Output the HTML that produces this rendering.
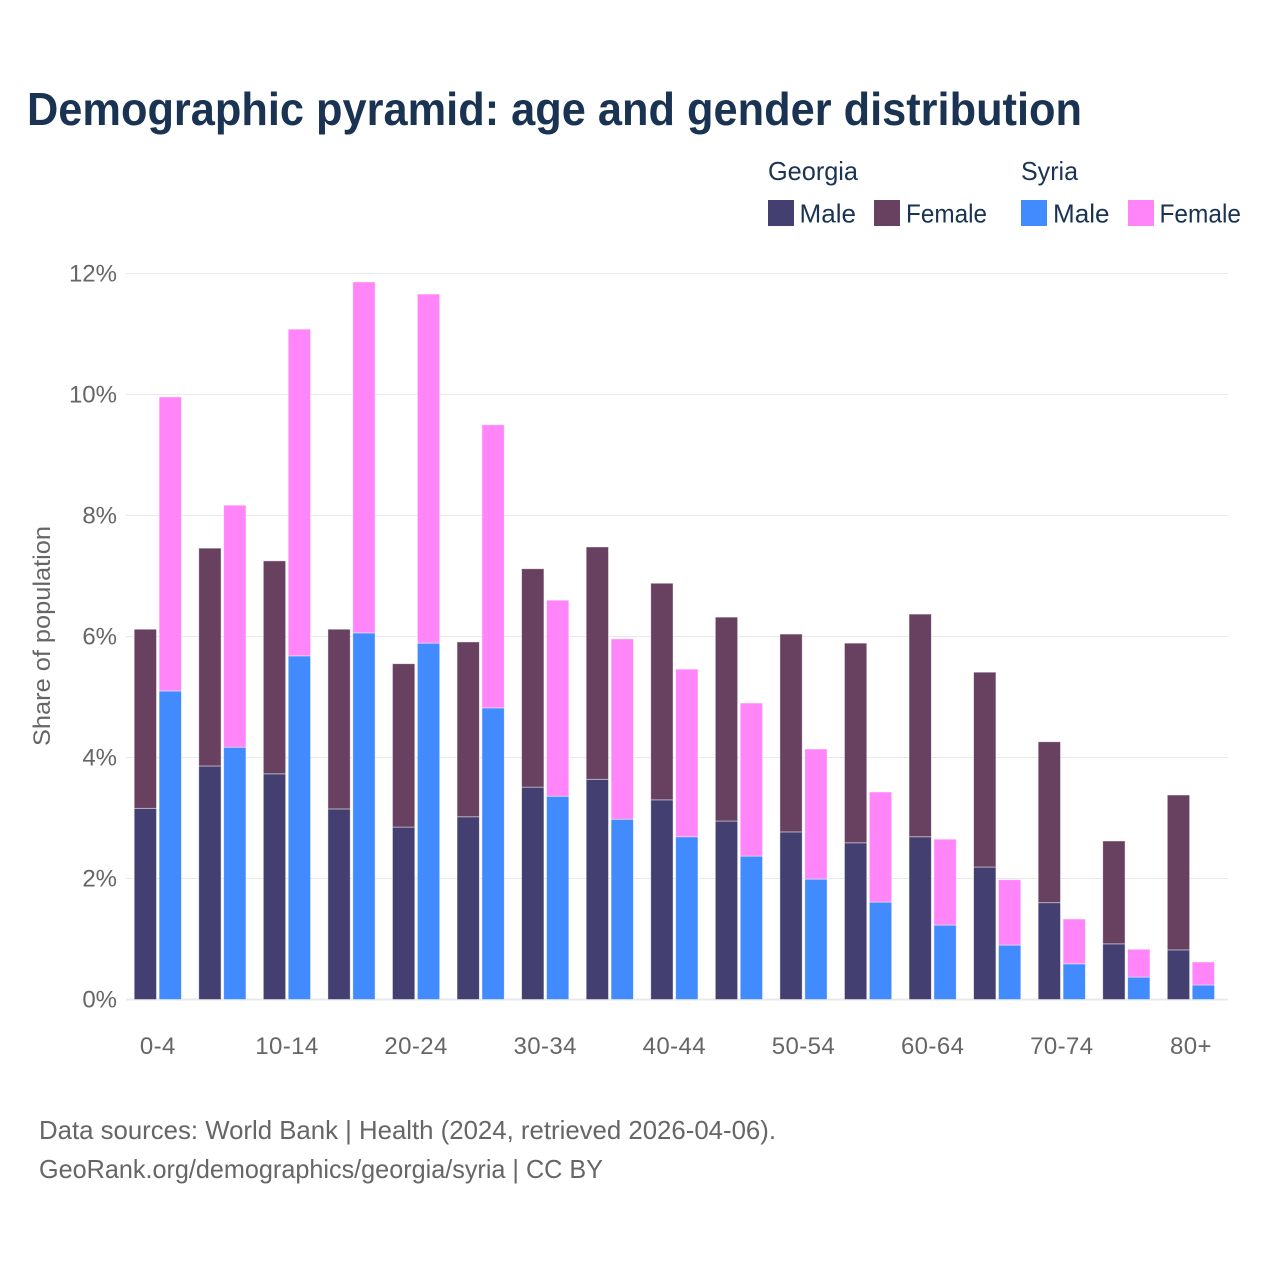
<!DOCTYPE html>
<html lang="en">
<head>
<meta charset="utf-8">
<title>Demographic pyramid</title>
<style>
html,body{margin:0;padding:0;background:#fff;width:1280px;height:1280px;overflow:hidden}
svg{display:block}
text{font-family:"Liberation Sans",sans-serif}
</style>
</head>
<body>
<svg id="chart" xmlns="http://www.w3.org/2000/svg" width="1280" height="1280" viewBox="0 0 1280 1280">
  <rect x="0" y="0" width="1280" height="1280" fill="#fff"/>
  <text x="27" y="125" font-size="46" font-weight="700" fill="#1a3353" textLength="1055" lengthAdjust="spacingAndGlyphs">Demographic pyramid: age and gender distribution</text>
  <g font-size="26" fill="#1a3353">
    <text x="768" y="180" textLength="90" lengthAdjust="spacingAndGlyphs">Georgia</text>
    <text x="1021" y="180" textLength="57" lengthAdjust="spacingAndGlyphs">Syria</text>
    <rect x="768" y="200" width="26" height="26" fill="#433f70"/>
    <text x="799.5" y="222.5" textLength="56.5" lengthAdjust="spacingAndGlyphs">Male</text>
    <rect x="874" y="200" width="26" height="26" fill="#684060"/>
    <text x="906" y="222.5" textLength="81" lengthAdjust="spacingAndGlyphs">Female</text>
    <rect x="1021" y="200" width="26" height="26" fill="#418bff"/>
    <text x="1053" y="222.5" textLength="56.5" lengthAdjust="spacingAndGlyphs">Male</text>
    <rect x="1128" y="200" width="26" height="26" fill="#ff85f9"/>
    <text x="1159.5" y="222.5" textLength="81.5" lengthAdjust="spacingAndGlyphs">Female</text>
  </g>
  <g id="grid"></g>
  <g id="yticks"></g>
  <g id="bars"></g>
  <g id="xticks"></g>
  <text transform="translate(50,636) rotate(-90)" text-anchor="middle" font-size="24" fill="#666" textLength="220" lengthAdjust="spacingAndGlyphs">Share of population</text>
  <text x="39" y="1139" font-size="26" fill="#666" textLength="737" lengthAdjust="spacingAndGlyphs">Data sources: World Bank | Health (2024, retrieved 2026-04-06).</text>
  <text x="39" y="1178" font-size="26" fill="#666" textLength="564" lengthAdjust="spacingAndGlyphs">GeoRank.org/demographics/georgia/syria | CC BY</text>
</svg>
<script>
const categories = ["0-4","5-9","10-14","15-19","20-24","25-29","30-34","35-39","40-44","45-49","50-54","55-59","60-64","65-69","70-74","75-79","80+"];
const xTickLabels = ["0-4","10-14","20-24","30-34","40-44","50-54","60-64","70-74","80+"];
const yTicks = [0,2,4,6,8,10,12];
const georgiaMale = [3.16,3.86,3.73,3.15,2.85,3.02,3.51,3.64,3.30,2.95,2.77,2.59,2.69,2.19,1.60,0.92,0.82];
const georgiaFemale = [2.96,3.60,3.52,2.97,2.70,2.89,3.61,3.84,3.58,3.37,3.27,3.30,3.68,3.22,2.66,1.70,2.56];
const syriaMale = [5.10,4.17,5.68,6.06,5.89,4.82,3.36,2.98,2.69,2.37,1.99,1.61,1.23,0.90,0.59,0.37,0.24];
const syriaFemale = [4.86,4.00,5.40,5.80,5.77,4.68,3.24,2.98,2.77,2.53,2.15,1.82,1.42,1.08,0.74,0.46,0.38];

const NS = "http://www.w3.org/2000/svg";
const plotLeft = 126, plotRight = 1228, y0 = 999.5, pxPerUnit = 60.5;
const firstCenter = 157.8, step = 64.57, barW = 22.3, barOffset = 1.3;
function yScale(v){ return y0 - v * pxPerUnit; }
function xScale(i){ return firstCenter + step * i; }

const grid = document.getElementById("grid");
const yticksG = document.getElementById("yticks");
yTicks.forEach(function(t){
  const line = document.createElementNS(NS,"line");
  
  
  line.setAttribute("x1",plotLeft);
  line.setAttribute("x2",plotRight);
  line.setAttribute("y1",yScale(t));
  line.setAttribute("y2",yScale(t));
  line.setAttribute("stroke","#e9e9ec");
  line.setAttribute("stroke-width",t === 0 ? 2 : 1);
  grid.appendChild(line);
  const label = document.createElementNS(NS,"text");
  
  
  label.setAttribute("x",117);
  label.setAttribute("y",yScale(t)+8);
  label.setAttribute("text-anchor","end");
  label.setAttribute("font-size",24);
  label.setAttribute("fill","#666");
  label.textContent = t + "%";
  yticksG.appendChild(label);
});

const barsG = document.getElementById("bars");
function addBar(i, side, base, value, color, name){
  const r = document.createElementNS(NS,"rect");
  
  
  const x = side < 0 ? xScale(i) - barOffset - barW : xScale(i) + barOffset;
  r.setAttribute("x", x);
  r.setAttribute("y", yScale(base + value));
  r.setAttribute("width", barW);
  r.setAttribute("height", value * pxPerUnit);
  r.setAttribute("fill", color);
  r.setAttribute("stroke", "rgba(255,255,255,0.55)");
  r.setAttribute("stroke-width", 0.8);
  barsG.appendChild(r);
}
categories.forEach(function(c,i){
  addBar(i,-1,0,georgiaMale[i],"#433f70","bar-georgia-male");
  addBar(i,-1,georgiaMale[i],georgiaFemale[i],"#684060","bar-georgia-female");
  addBar(i,1,0,syriaMale[i],"#418bff","bar-syria-male");
  addBar(i,1,syriaMale[i],syriaFemale[i],"#ff85f9","bar-syria-female");
});

const xticksG = document.getElementById("xticks");
xTickLabels.forEach(function(lab){
  const t = document.createElementNS(NS,"text");
  
  
  t.setAttribute("x", xScale(categories.indexOf(lab)));
  t.setAttribute("y", 1054);
  t.setAttribute("text-anchor","middle");
  t.setAttribute("font-size",24);
  t.setAttribute("letter-spacing","0.4");
  t.setAttribute("fill","#666");
  t.textContent = lab;
  xticksG.appendChild(t);
});
</script>
</body>
</html>
